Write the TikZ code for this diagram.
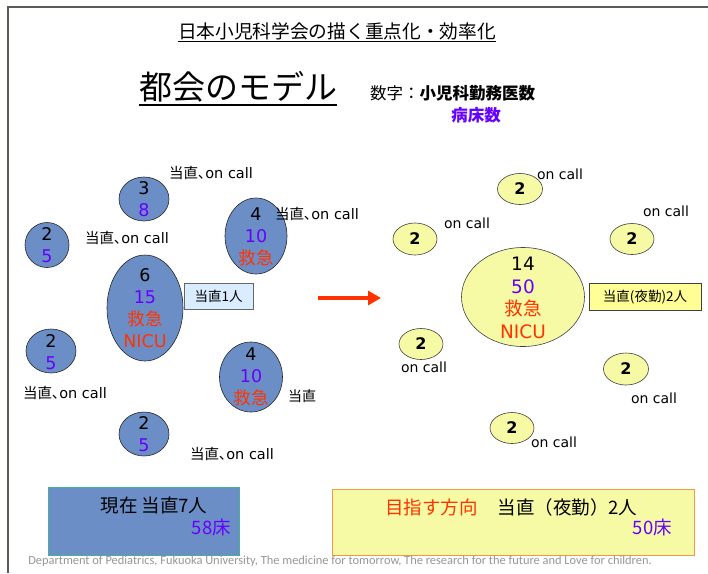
\documentclass[tikz,border=0pt]{standalone}
\usepackage{fontspec}
\usepackage{graphicx}
\setmainfont{DejaVu Sans}
\newfontfamily\jp{Noto Sans CJK JP}
\newfontfamily\jpp[RawFeature={+palt}]{Noto Sans CJK JP}
\newfontfamily\footfont{Carlito}
\usetikzlibrary{arrows.meta,shapes.geometric}
\definecolor{bluefill}{RGB}{108,142,198}
\definecolor{yelfill}{RGB}{247,250,165}
\definecolor{boxyel}{RGB}{255,255,150}
\definecolor{lightblue}{RGB}{218,236,255}
\definecolor{purp}{RGB}{102,0,255}
\definecolor{redt}{RGB}{255,51,0}
\definecolor{framecol}{RGB}{95,90,85}
\definecolor{tealb}{RGB}{70,175,150}
\definecolor{orangeb}{RGB}{247,150,70}
\definecolor{footgray}{RGB}{150,150,150}
\begin{document}
\begin{tikzpicture}[x=1pt,y=-1pt,
  blueell/.style={ellipse,draw=black!85,fill=bluefill,line width=0.6pt,inner sep=0pt},
  yelell/.style={ellipse,draw=black!75,fill=yelfill,line width=0.6pt,inner sep=0pt},
  numtxt/.style={align=center,inner sep=0pt,font=\fontsize{17.5}{22}\selectfont},
  bignum/.style={align=center,inner sep=0pt,font=\fontsize{18.5}{22.5}\selectfont},
  yeltxt/.style={inner sep=0pt,font=\bfseries\fontsize{16}{18}\selectfont},
  lbl/.style={inner sep=0pt,font=\fontsize{14.5}{16}\selectfont},
  oncall/.style={inner sep=0pt,font=\fontsize{14}{16}\selectfont},
  bottxt/.style={inner sep=0pt,font=\jp\fontsize{18.5}{20}\selectfont}
]
\useasboundingbox (0,0) rectangle (708,573);
\fill[white] (0,0) rectangle (708,573);
% frame
\draw[framecol,line width=2pt] (708,7) -- (8,7) -- (8,573);

% titles
\node[inner sep=0pt,font=\jp\fontsize{18.7}{20}\selectfont] (title) at (337,31) {日本小児科学会の描く重点化・効率化};
\draw[line width=1pt] ([yshift=-1.5pt]title.south west) -- ([yshift=-1.5pt]title.south east);
\node[inner sep=0pt,font=\jp\fontsize{33}{36}\selectfont] (model) at (238,87) {都会のモデル};
\draw[line width=2pt] ([yshift=-2pt]model.south west) -- ([yshift=-2pt]model.south east);
\node[inner sep=0pt,anchor=west,font=\jp\fontsize{16.5}{18}\selectfont] (numkey) at (370,93) {数字：{\bfseries 小児科勤務医数}};
\node[inner sep=0pt,font=\jp\bfseries\fontsize{16.5}{18}\selectfont,text=purp] (bedkey) at (476,115) {病床数};

% left ellipses
\node[blueell,minimum width=50,minimum height=44] (e38) at (144,199) {};
\node[numtxt] (t38) at (e38) {3\\\color{purp}8};
\node[blueell,minimum width=44,minimum height=45] (e25a) at (47,245) {};
\node[numtxt] (t25a) at (e25a) {2\\\color{purp}5};
\node[blueell,minimum width=62,minimum height=76] (e410a) at (256,236) {};
\node[numtxt] (t410a) at ([yshift=-1pt]e410a.center) {4\\\color{purp}10\\\color{redt}\jp 救急};
\node[blueell,minimum width=76,minimum height=106] (e6) at (145,308) {};
\node[numtxt] (t6) at (e6) {6\\\color{purp}15\\\color{redt}\jp 救急\\\color{redt}NICU};
\node[blueell,minimum width=50,minimum height=44] (e25b) at (51,351) {};
\node[numtxt] (t25b) at ([yshift=-1pt]e25b.center) {2\\\color{purp}5};
\node[blueell,minimum width=63,minimum height=70] (e410b) at (251,377) {};
\node[numtxt] (t410b) at (e410b) {4\\\color{purp}10\\\color{redt}\jp 救急};
\node[blueell,minimum width=50,minimum height=44] (e25c) at (144,434) {};
\node[numtxt] (t25c) at (e25c) {2\\\color{purp}5};

% left labels
\node[lbl] (l1) at (211,173) {{\jpp 当直、}on call};
\node[lbl] (l2) at (127,238) {{\jpp 当直、}on call};
\node[lbl] (l3) at (317,214) {{\jpp 当直、}on call};
\node[lbl] (l4) at (65,393) {{\jpp 当直、}on call};
\node[lbl,font=\jp\fontsize{14}{16}\selectfont] (l5) at (302,396) {当直};
\node[lbl] (l6) at (232,454) {{\jpp 当直、}on call};
\node[draw=black!60,fill=lightblue,line width=0.7pt,minimum width=69,minimum height=26,inner sep=0pt,font=\jp\fontsize{13.5}{15}\selectfont] (duty1) at (218.5,296) {当直1人};

% arrow
\coordinate (arrS) at (318,298);
\coordinate (arrE) at (381,298);
\draw[redt,line width=4pt,-{Triangle[length=13pt,width=14pt]}] (arrS) -- (arrE);

% right ellipses
\node[yelell,minimum width=45,minimum height=31] (y1) at (520,189) {};
\node[yeltxt] (ty1) at (y1) {2};
\node[yelell,minimum width=44,minimum height=32] (y2) at (415,239) {};
\node[yeltxt] (ty2) at (y2) {2};
\node[yelell,minimum width=44,minimum height=31] (y3) at (632,239) {};
\node[yeltxt] (ty3) at (y3) {2};
\node[yelell,minimum width=123,minimum height=99] (ybig) at (523,297) {};
\node[bignum] (tybig) at ([yshift=-1pt]ybig.center) {14\\\color{purp}50\\\color{redt}\jp 救急\\\color{redt}NICU};
\node[yelell,minimum width=44,minimum height=31] (y4) at (421,344) {};
\node[yeltxt] (ty4) at (y4) {2};
\node[yelell,minimum width=45,minimum height=32] (y5) at (626,369) {};
\node[yeltxt] (ty5) at (y5) {2};
\node[yelell,minimum width=44,minimum height=31] (y6) at (512,428) {};
\node[yeltxt] (ty6) at (y6) {2};
\node[draw=black!75,fill=boxyel,line width=0.7pt,minimum width=112,minimum height=27,inner sep=0pt,font=\jp\fontsize{13.5}{15}\selectfont] (duty2) at (645,297) {当直(夜勤)2人};

% right labels
\node[oncall] (o1) at (560,174) {on call};
\node[oncall] (o2) at (467,223) {on call};
\node[oncall] (o3) at (666,211) {on call};
\node[oncall] (o4) at (424,367) {on call};
\node[oncall] (o5) at (654,398) {on call};
\node[oncall] (o6) at (554,442) {on call};

% bottom boxes
\node[draw=tealb,fill=bluefill,line width=1pt,minimum width=191,minimum height=68,inner sep=0pt] (nowbox) at (143.5,521) {};
\node[bottxt] (nowt) at (154,505) {現在 当直7人};
\node[bottxt,text=purp,anchor=east] (nowb) at (231,527) {58床};
\node[draw=orangeb,fill=yelfill,line width=1pt,minimum width=362,minimum height=66,inner sep=0pt] (goalbox) at (513,522) {};
\node[bottxt,anchor=west] (goalt) at (385,507) {\textcolor{redt}{目指す方向}\hspace{20pt}当直（夜勤）2人};
\node[bottxt,text=purp,anchor=east] (goalb) at (672,527) {50床};

% footer
\node[inner sep=0pt,text=footgray,font=\footfont\fontsize{12.4}{13}\selectfont] (foot) at (340,561) {Department of Pediatrics, Fukuoka University, The medicine for tomorrow, The research for the future and Love for children.};
\end{tikzpicture}
\end{document}
